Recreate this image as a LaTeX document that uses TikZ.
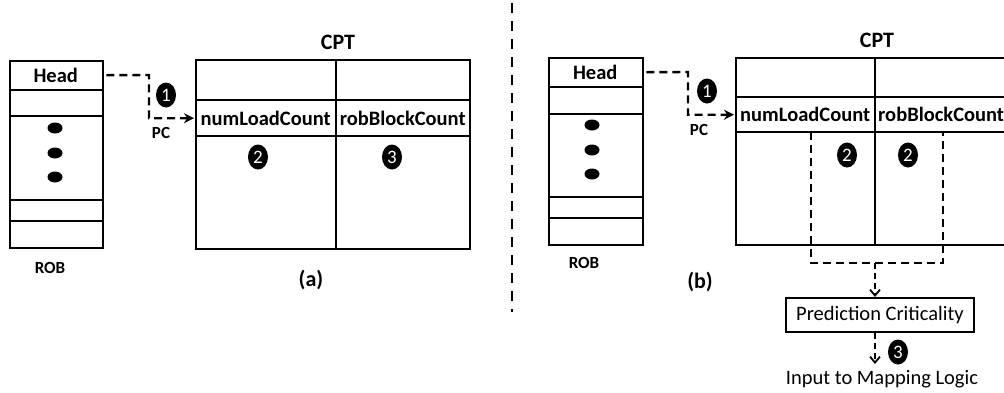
\documentclass[tikz,border=0pt]{standalone}
\usepackage{fontspec}
\setmainfont{Carlito}
\usetikzlibrary{arrows.meta,shapes.geometric}
\begin{document}
\begin{tikzpicture}[x=1pt,y=-1pt,
  box/.style={draw,line width=2.4pt,inner sep=0pt},
  cell/.style={inner sep=0pt,font=\bfseries\fontsize{20.5}{20.5}\selectfont},
  lbl/.style={font=\bfseries\fontsize{17}{17}\selectfont,inner sep=0pt},
  ttl/.style={font=\bfseries\fontsize{22}{22}\selectfont,inner sep=0pt},
  circ/.style={ellipse,fill=black,text=white,inner sep=0pt,minimum width=20pt,minimum height=25pt,font=\fontsize{19}{19}\selectfont},
  dot/.style={ellipse,fill=black,inner sep=0pt,minimum width=15pt,minimum height=11pt},
  dasharrow/.style={line width=2.4pt,dash pattern=on 8pt off 5pt,-{Stealth[length=10pt,width=10pt]}},
  dashline/.style={line width=2.4pt,dash pattern=on 8pt off 5pt},
  thinarrow/.style={line width=2.4pt,dash pattern=on 6pt off 4pt,-{Straight Barb[length=6pt,width=10pt,line width=1.8pt]}},
  rowline/.style={line width=2pt}]
\useasboundingbox (0,0) rectangle (1004,392);
\clip (0,0) rectangle (1004,392);

% ---------------- (a) ----------------
\node[box,minimum width=93pt,minimum height=187pt,anchor=north west] (robA) at (9,60) {};
\node[cell,minimum width=93pt,minimum height=30pt,anchor=north west] (headA) at (9,60) {Head};
\draw[rowline] (9,90) -- (102,90);
\draw[rowline] (9,116) -- (102,116);
\draw[rowline] (9,200) -- (104,200);
\draw[rowline] (9,221) -- (102,221);
\node[dot] (dA1) at (55,128) {};
\node[dot] (dA2) at (55,153) {};
\node[dot] (dA3) at (55,177) {};
\node[lbl] (robAl) at (50,268) {ROB};

\node[box,minimum width=274pt,minimum height=189pt,anchor=north west] (cptA) at (195,59) {};
\node[ttl] (cptAt) at (338,42) {CPT};
\node[cell,minimum width=141pt,minimum height=36pt,anchor=north west] (nlcA) at (195,100) {numLoadCount};
\node[cell,minimum width=133pt,minimum height=36pt,anchor=north west] (rbcA) at (336,100) {robBlockCount};
\draw[rowline] (cptA.west |- nlcA.north) -- (cptA.east |- nlcA.north);
\draw[rowline] (cptA.west |- nlcA.south) -- (cptA.east |- nlcA.south);
\draw[rowline] (nlcA.east |- cptA.north) -- (nlcA.east |- cptA.south);
\node[circ] (c2A) at (258,157) {2};
\node[circ] (c3A) at (392,157) {3};
\node[ttl] (capA) at (311,280) {(a)};

\coordinate (bendA) at (149,75);
\draw[dasharrow] ([xshift=4pt]headA.east) -- (bendA) |- ([xshift=-1pt]nlcA.west);
\node[circ] (c1A) at (166,95) {1};
\node[lbl] (pcA) at (161,133) {PC};

% ---------------- separator ----------------
\coordinate (sepT) at (512,3);
\coordinate (sepB) at (512,312);
\draw[line width=2.4pt,dash pattern=on 10pt off 8pt] (sepT) -- (sepB);

% ---------------- (b) ----------------
\node[box,minimum width=94pt,minimum height=187pt,anchor=north west] (robB) at (548,57) {};
\node[cell,minimum width=94pt,minimum height=30pt,anchor=north west] (headB) at (548,57) {Head};
\draw[rowline] (548,87) -- (642,87);
\draw[rowline] (548,114) -- (642,114);
\draw[rowline] (548,197) -- (644,197);
\draw[rowline] (548,218) -- (642,218);
\node[dot] (dB1) at (592,125) {};
\node[dot] (dB2) at (592,150) {};
\node[dot] (dB3) at (592,174) {};
\node[lbl] (robBl) at (584,263) {ROB};

\node[box,minimum width=280pt,minimum height=187pt,anchor=north west] (cptB) at (735,57) {};
\node[ttl] (cptBt) at (877,40) {CPT};
\node[cell,minimum width=140pt,minimum height=35pt,anchor=north west] (nlcB) at (735,97) {numLoadCount};
\node[cell,minimum height=35pt,anchor=north west,inner xsep=3pt] (rbcB) at (875,97) {robBlockCount};
\draw[rowline] (cptB.west |- nlcB.north) -- (cptB.east |- nlcB.north);
\draw[rowline] (cptB.west |- nlcB.south) -- (cptB.east |- nlcB.south);
\draw[rowline] (nlcB.east |- cptB.north) -- (nlcB.east |- cptB.south);
\node[circ] (c2B) at (847,155) {2};
\node[circ] (c2Bb) at (908,155) {2};
\node[ttl] (capB) at (700,282) {(b)};

\coordinate (bendB) at (688,72);
\draw[dasharrow] ([xshift=4pt]headB.east) -- (bendB) |- ([xshift=-1pt]nlcB.west);
\node[circ] (c1B) at (707,91) {1};
\node[lbl] (pcB) at (699,130) {PC};

\coordinate (jl) at (811,263);
\coordinate (jr) at (943,263);
\coordinate (jm) at (875,263);
\draw[dashline] (nlcB.south -| jl) -- (jl) -- (jr) -- (nlcB.south -| jr);
\node[draw,line width=2pt,minimum width=188pt,minimum height=34pt,inner sep=0pt,font=\fontsize{20.5}{20.5}\selectfont] (pred) at (880,315) {Prediction Criticality};
\draw[thinarrow] (jm) -- (pred.north -| jm);
\coordinate (outB) at (875,364);
\draw[thinarrow] (pred.south -| outB) -- (outB);
\node[circ] (c3B) at (898,352) {3};
\node[font=\fontsize{20.5}{20.5}\selectfont,inner sep=0pt] (inp) at (882,379) {Input to Mapping Logic};
\end{tikzpicture}
\end{document}
